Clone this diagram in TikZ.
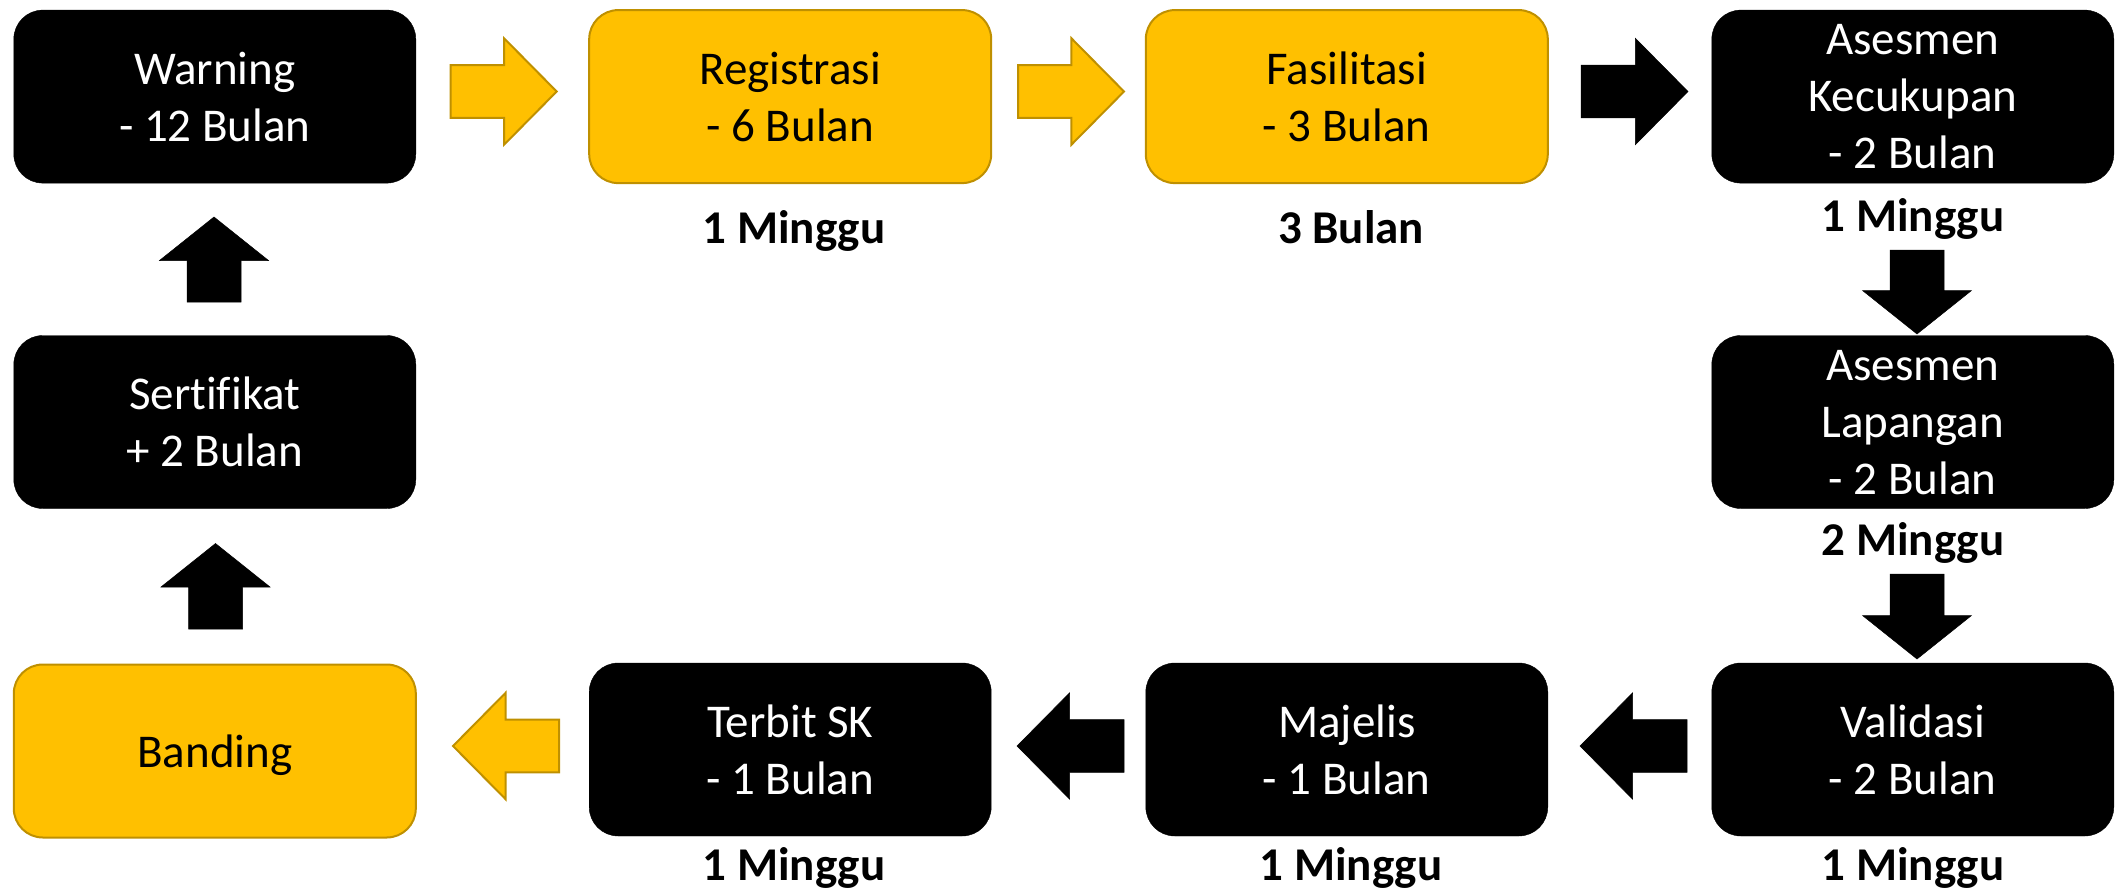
\documentclass[tikz,border=0pt]{standalone}
\usepackage{fontspec}
\setmainfont{Carlito}[Ligatures=NoCommon]
\definecolor{gold}{HTML}{FFC000}
\definecolor{golddark}{HTML}{BF9000}
\newcommand\arrR[4]{\filldraw[#1] ({#2},{#4-26.3}) -- ({#3-52.7},{#4-26.3}) -- ({#3-52.7},{#4-53.3}) -- ({#3},{#4}) -- ({#3-52.7},{#4+53.3}) -- ({#3-52.7},{#4+26.3}) -- ({#2},{#4+26.3}) -- cycle;}
\newcommand\arrL[4]{\filldraw[#1] ({#3},{#4-26.3}) -- ({#2+52.7},{#4-26.3}) -- ({#2+52.7},{#4-53.3}) -- ({#2},{#4}) -- ({#2+52.7},{#4+53.3}) -- ({#2+52.7},{#4+26.3}) -- ({#3},{#4+26.3}) -- cycle;}
\newcommand\arrD[4]{\filldraw[#1] ({#2-27},{#3}) -- ({#2+27},{#3}) -- ({#2+27},{#4-43.5}) -- ({#2+54.5},{#4-43.5}) -- ({#2},{#4}) -- ({#2-54.5},{#4-43.5}) -- ({#2-27},{#4-43.5}) -- cycle;}
\newcommand\arrU[4]{\filldraw[#1] ({#2-27},{#4}) -- ({#2+27},{#4}) -- ({#2+27},{#3+43.5}) -- ({#2+54.5},{#3+43.5}) -- ({#2},{#3}) -- ({#2-54.5},{#3+43.5}) -- ({#2-27},{#3+43.5}) -- cycle;}
\begin{document}
\begin{tikzpicture}[x=1pt,y=-1pt,
  box/.style={rounded corners=29pt, minimum width=402pt, minimum height=173pt, inner sep=0pt, align=center, font=\fontsize{47}{57}\selectfont, text depth=0pt},
  blackbox/.style={box, fill=black, draw=black, text=white},
  goldbox/.style={box, fill=gold, draw=golddark, line width=2pt, text=black},
  lbl/.style={font=\fontsize{47}{57}\selectfont\bfseries, anchor=base, inner sep=0pt},
  goldarrow/.style={fill=gold, draw=golddark, line width=2pt, line join=miter},
  blackarrow/.style={fill=black, draw=black, line width=0.5pt},
]
\useasboundingbox (0,0) rectangle (2118,891);
% boxes
\node[blackbox] (warn) at (214.8,96.6) {Warning\\- 12 Bulan};
\node[goldbox]  (reg)  at (790.2,96.6) {Registrasi\\- 6 Bulan};
\node[goldbox]  (fas)  at (1346.8,96.6) {Fasilitasi\\- 3 Bulan};
\node[blackbox] (ak)   at (1912.8,96.6) {Asesmen\\Kecukupan\\- 2 Bulan};
\node[blackbox] (sert) at (214.8,422) {Sertifikat\\+ 2 Bulan};
\node[blackbox] (al)   at (1912.8,422) {Asesmen\\Lapangan\\- 2 Bulan};
\node[goldbox]  (band) at (214.8,751) {Banding};
\node[blackbox] (terb) at (790.2,749.5) {Terbit SK\\- 1 Bulan};
\node[blackbox] (maj)  at (1346.8,749.5) {Majelis\\- 1 Bulan};
\node[blackbox] (val)  at (1912.8,749.5) {Validasi\\- 2 Bulan};
% labels
\node[lbl] (lreg)  at (794,243.3) {1 Minggu};
\node[lbl] (lfas)  at (1351,243.3) {3 Bulan};
\node[lbl] (lak)   at (1913,231) {1 Minggu};
\node[lbl] (lal)   at (1913,555.5) {2 Minggu};
\node[lbl] (lterb) at (794,880) {1 Minggu};
\node[lbl] (lmaj)  at (1351,880) {1 Minggu};
\node[lbl] (lval)  at (1913,880) {1 Minggu};
% block arrows
\arrR{goldarrow}{450.7}{556.7}{91.5}
\arrR{goldarrow}{1018}{1124}{91.5}
\arrR{blackarrow}{1581}{1688}{91.5}
\arrD{blackarrow}{1917}{250}{334}
\arrD{blackarrow}{1917}{574}{659}
\arrL{blackarrow}{1580}{1687}{746}
\arrL{blackarrow}{1017}{1124}{746}
\arrL{goldarrow}{453}{559}{746}
\arrU{blackarrow}{215.5}{543.5}{629}
\arrU{blackarrow}{214}{217}{302}
\end{tikzpicture}
\end{document}
